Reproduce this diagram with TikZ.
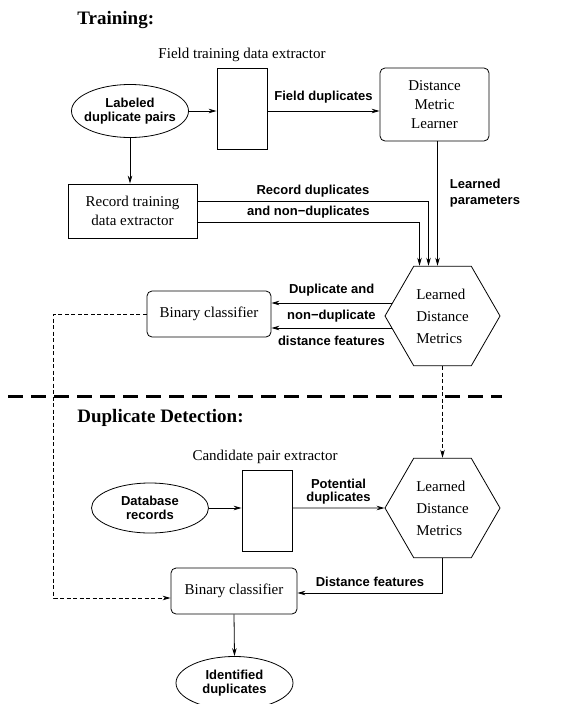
\documentclass[tikz,border=0pt]{standalone}
\usepackage{fontspec}
\setmainfont{Liberation Serif}
\setsansfont{Liberation Sans}
\usetikzlibrary{positioning, arrows.meta, shapes.geometric, calc}

\newcommand{\boxfont}{\fontsize{15}{19}\selectfont}
\newcommand{\flowfont}{\sffamily\bfseries\fontsize{13}{13.5}\selectfont}

\tikzset{
  heading/.style={anchor=west, inner sep=0pt, font=\bfseries\fontsize{19}{22}\selectfont},
  caption/.style={inner sep=0pt, font=\boxfont},
  extractor/.style={draw, inner sep=0pt, minimum width=50pt, minimum height=81pt},
  source/.style={draw, ellipse, inner sep=0pt, inner xsep=-6pt, minimum width=117pt,
                 minimum height=53pt, align=center, font=\flowfont},
  plainbox/.style={draw, inner sep=0pt, align=center, font=\boxfont},
  learner/.style={draw, rounded corners=5pt, inner sep=0pt, align=center, font=\boxfont},
  metric/.style={draw, regular polygon, regular polygon sides=6, minimum size=115pt,
                 inner sep=0pt, align=left, font=\fontsize{15}{22}\selectfont},
  flowlbl/.style={inner sep=0pt, align=center, font=\flowfont},
  feedback/.style={dash pattern=on 4pt off 2.5pt}
}

\begin{document}
\begin{tikzpicture}[x=1pt, y=-1pt, line width=0.8pt, >={Stealth[length=8pt, width=4.5pt]}]
  \useasboundingbox[fill=white] (0,0) rectangle (560,704);

  % training part
  \node[heading] (traintitle) at (77,20) {Training:};
  \node[caption] (fieldcap) at (242,55) {Field training data extractor};
  \node[extractor] (fieldext) at (242,108.5) {};
  \node[source] (labeled) at (130,111) {Labeled\\duplicate pairs};
  \node[learner, minimum width=109pt, minimum height=73pt] (dml) at (434.5,104.5) {Distance\\Metric\\Learner};
  \node[plainbox, minimum width=129pt, minimum height=54pt] (record) at (132.5,211) {Record training\\data extractor};
  \node[metric] (ldm1) at (442.5,316) {Learned\\Distance\\Metrics};
  \node[learner, minimum width=124pt, minimum height=46pt] (bc1) at (209,314) {Binary classifier};

  \draw[->] (labeled.east) -- (labeled.east -| fieldext.west);
  \draw[->] (fieldext.east |- labeled.east) -- (dml.west |- labeled.east)
    node[flowlbl, midway, above=7pt] {Field duplicates};
  \draw[->] (labeled.south) -- (labeled.south |- record.north);
  \draw[->] ([yshift=10pt]record.east) -| ([xshift=-14pt]ldm1.north)
    node[flowlbl, pos=0.25, above=3.5pt] {Record duplicates};
  \draw[->] ([yshift=-11pt]record.east) -| ([xshift=-23pt]ldm1.north)
    node[flowlbl, pos=0.25, above=3pt] {and non−duplicates};
  \draw[->] ([xshift=-5pt]ldm1.north |- dml.south) -- ([xshift=-5pt]ldm1.north)
    node[flowlbl, pos=0.415, right=12pt, align=left, font=\sffamily\bfseries\fontsize{13}{16.5}\selectfont] {Learned\\parameters};

  \coordinate (featup) at ([xshift=7.5pt, yshift=13pt]ldm1.west);
  \coordinate (featdn) at ([xshift=7pt, yshift=-12pt]ldm1.west);
  \draw[->] (featup) -- (featup -| bc1.east) node[flowlbl, midway, above=6.5pt] {Duplicate and};
  \draw[->] (featdn) -- (featdn -| bc1.east)
    node[flowlbl, midway, above=5pt] {non−duplicate}
    node[flowlbl, midway, below=8pt] {distance features};

  \draw[line width=3pt, dash pattern=on 15pt off 8pt] (8,396) -- (502,396);

  % detection part
  \node[heading] (dettitle) at (77,418) {Duplicate Detection:};
  \node[caption] (candcap) at (265,457) {Candidate pair extractor};
  \node[extractor] (candext) at (267,510.5) {};
  \node[source, minimum height=50pt] (dbrec) at (150,508) {Database\\records};
  \node[metric] (ldm2) at (442.5,508) {Learned\\Distance\\Metrics};
  \node[learner, minimum width=126pt, minimum height=46pt] (bc2) at (234,591) {Binary classifier};
  \node[source] (ident) at (234.5,683) {Identified\\duplicates};

  \draw[->, feedback] (ldm1.south) -- (ldm2.north);
  \draw[->] (dbrec.east) -- (dbrec.east -| candext.west);
  \draw[->] (candext.east |- dbrec.east) -- (ldm2.west)
    node[flowlbl, midway, above=3pt] {Potential\\duplicates};
  \draw[->] (ldm2.south) |- ([yshift=-2pt]bc2.east)
    node[flowlbl, pos=0.75, above=6pt] {Distance features};
  \draw[->, feedback] (bc1.west) -- ++(-93,0) |- ([yshift=-7pt]bc2.west);
  \draw[->] (bc2.south) -- (ident.north);
\end{tikzpicture}
\end{document}
